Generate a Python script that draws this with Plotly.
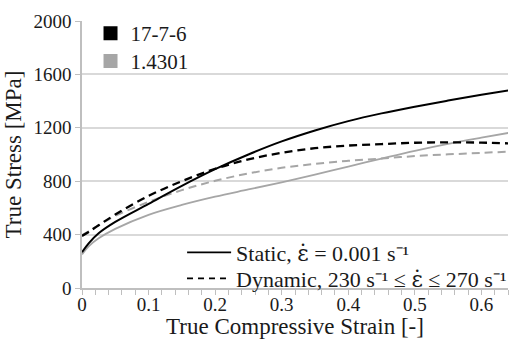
import plotly.graph_objects as go

strain = [0, 0.01, 0.025, 0.05, 0.1, 0.15, 0.2, 0.25, 0.3, 0.35, 0.4, 0.45, 0.5, 0.55, 0.6, 0.65]
s1776_static = [268, 335, 410, 495, 630, 765, 890, 1000, 1098, 1180, 1250, 1308, 1358, 1404, 1447, 1488]
s1776_dynamic = [390, 420, 470, 550, 690, 800, 893, 963, 1013, 1047, 1067, 1078, 1088, 1091, 1089, 1082]
s14301_static = [252, 312, 372, 443, 548, 622, 684, 738, 792, 850, 910, 970, 1028, 1080, 1126, 1170]
s14301_dynamic = [395, 425, 470, 540, 645, 733, 803, 858, 900, 930, 953, 970, 988, 1001, 1012, 1024]

BLACK = "#000000"
GRAY = "#a6a6a6"
FONT = "Liberation Serif, Times New Roman, serif"
TXT = "#1a1a1a"
EPS = '<span style="font-family:DejaVu Serif">ε̇</span>'
INV_S = "s⁻¹"

fig = go.Figure()
fig.add_trace(go.Scatter(x=strain, y=s14301_static, mode="lines", line=dict(color=GRAY, width=1.8, shape="spline"), showlegend=False))
fig.add_trace(go.Scatter(x=strain, y=s14301_dynamic, mode="lines", line=dict(color=GRAY, width=2, dash="8px,5px", shape="spline"), showlegend=False))
fig.add_trace(go.Scatter(x=strain, y=s1776_static, mode="lines", line=dict(color=BLACK, width=2, shape="spline"), showlegend=False))
fig.add_trace(go.Scatter(x=strain, y=s1776_dynamic, mode="lines", line=dict(color=BLACK, width=2.3, dash="8px,5px", shape="spline"), showlegend=False))

# material legend
fig.add_trace(go.Scatter(x=[None], y=[None], mode="markers", name="17-7-6",
                         marker=dict(symbol="square", size=14, color=BLACK), legend="legend"))
fig.add_trace(go.Scatter(x=[None], y=[None], mode="markers", name="1.4301",
                         marker=dict(symbol="square", size=14, color=GRAY), legend="legend4"))
# test legend
fig.add_trace(go.Scatter(x=[None], y=[None], mode="lines", name="Static, " + EPS + " = 0.001 " + INV_S,
                         line=dict(color=BLACK, width=1.8), legend="legend2"))
fig.add_trace(go.Scatter(x=[None], y=[None], mode="lines",
                         name="Dynamic, 230 " + INV_S + " ≤ " + EPS + " ≤ 270 " + INV_S,
                         line=dict(color=BLACK, width=1.8, dash="6px,5px"), legend="legend3"))

mat_leg = dict(xanchor="left", yanchor="top", bgcolor="rgba(0,0,0,0)",
               font=dict(family=FONT, size=21, color=TXT), itemwidth=30)
test_leg = dict(xanchor="left", yanchor="top", bgcolor="rgba(0,0,0,0)",
                font=dict(family=FONT, size=22, color=TXT), itemwidth=44)

fig.update_layout(
    width=512, height=339,
    margin=dict(l=82, r=0, t=21, b=51),
    plot_bgcolor="white", paper_bgcolor="white",
    font=dict(family=FONT, size=19, color=TXT),
    legend=dict(x=0.02, y=1.030, **mat_leg),
    legend4=dict(x=0.02, y=0.926, **mat_leg),
    legend2=dict(x=0.235, y=0.211, **test_leg),
    legend3=dict(x=0.235, y=0.114, **test_leg),
)
fig.update_xaxes(range=[0, 0.64], tickvals=[0, 0.1, 0.2, 0.3, 0.4, 0.5, 0.6],
                 ticktext=["0", "0.1", "0.2", "0.3", "0.4", "0.5", "0.6"],
                 showgrid=False, zeroline=False,
                 showline=True, linecolor="#bfbfbf", linewidth=1.5,
                 ticks="outside", ticklen=5, tickcolor="#bfbfbf", ticklabelstandoff=-7,
                 minor=dict(dtick=0.02, ticks="outside", ticklen=5, tickcolor="#bfbfbf", showgrid=False),
                 tickfont=dict(family=FONT, size=19, color=TXT),
                 title=dict(text="True Compressive Strain [-]", font=dict(family=FONT, size=23, color=TXT), standoff=5))
fig.update_yaxes(range=[0, 2000], dtick=400, showgrid=True, gridcolor="#d9d9d9", gridwidth=1.5,
                 zeroline=False, showline=True, linecolor="#bfbfbf", linewidth=1.5,
                 ticks="outside", ticklen=5, tickcolor="#bfbfbf",
                 tickfont=dict(family=FONT, size=19, color=TXT),
                 title=dict(text="True Stress [MPa]", font=dict(family=FONT, size=23, color=TXT), standoff=5))

fig.write_html("out.html")
